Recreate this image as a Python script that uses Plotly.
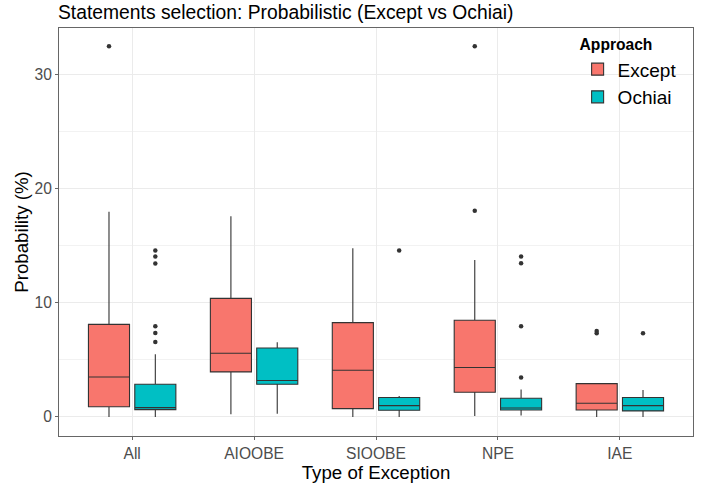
import plotly.graph_objects as go

categories = ["All", "AIOOBE", "SIOOBE", "NPE", "IAE"]
approaches = ["Except", "Ochiai"]
colors = ["#F8766D", "#00BFC4"]

# Box statistics per approach, in category order
except_q1 = [0.90, 3.95, 0.73, 2.16, 0.61]
except_med = [3.50, 5.58, 4.09, 4.33, 1.20]
except_q3 = [8.12, 10.40, 8.27, 8.48, 2.92]
except_lo = [0.00, 0.23, 0.00, 0.09, 0.00]
except_hi = [18.00, 17.60, 14.80, 13.77, 2.92]
except_out = [[32.5], [], [], [18.07, 32.5], [7.54, 7.34]]

ochiai_q1 = [0.64, 2.87, 0.59, 0.61, 0.53]
ochiai_med = [0.82, 3.19, 0.99, 0.79, 0.99]
ochiai_q3 = [2.87, 6.05, 1.70, 1.64, 1.70]
ochiai_lo = [0.00, 0.29, 0.00, 0.12, 0.00]
ochiai_hi = [5.50, 6.55, 1.84, 2.40, 2.37]
ochiai_out = [[14.6, 14.06, 13.45, 7.95, 7.37, 6.58], [], [14.6],
              [14.06, 13.48, 7.95, 3.45], [7.34]]

stats = {
    "Except": (except_q1, except_med, except_q3, except_lo, except_hi, except_out),
    "Ochiai": (ochiai_q1, ochiai_med, ochiai_q3, ochiai_lo, ochiai_hi, ochiai_out),
}

dodge = 0.19
box_w = 0.337
fig = go.Figure()
for k, name in enumerate(approaches):
    q1, med, q3, lo, hi, outs = stats[name]
    off = -dodge if k == 0 else dodge
    xs = [i + off for i in range(len(categories))]
    fig.add_trace(go.Box(
        name=name, x=xs, q1=q1, median=med, q3=q3,
        lowerfence=lo, upperfence=hi, width=box_w,
        fillcolor=colors[k], line=dict(color="#333333", width=1.1),
        whiskerwidth=0, boxpoints=False, showlegend=True,
    ))
    ox, oy = [], []
    for i, vals in enumerate(outs):
        for v in vals:
            ox.append(i + off)
            oy.append(v)
    fig.add_trace(go.Scatter(
        x=ox, y=oy, mode="markers", showlegend=False,
        marker=dict(color="#333333", size=4.5),
    ))

fig.update_layout(
    width=712, height=485,
    margin=dict(l=59, r=19, t=28, b=49, autoexpand=False),
    paper_bgcolor="white", plot_bgcolor="white",
    font=dict(family="Liberation Sans, Arial, sans-serif", color="black"),
    title=dict(text="Statements selection: Probabilistic (Except vs Ochiai)",
               x=58/712, xref="container", xanchor="left",
               y=1-12.5/485, yref="container", yanchor="middle",
               font=dict(size=19.3, color="black")),
    legend=dict(
        title=dict(text="<b>Approach</b>", font=dict(size=15.6), side="top"),
        font=dict(size=19), x=0.818, y=0.995, xanchor="left", yanchor="top",
        bgcolor="rgba(0,0,0,0)", tracegroupgap=0,
    ),
    showlegend=True,
)
fig.update_xaxes(
    range=[-0.6, 4.6], tickvals=list(range(len(categories))), ticktext=categories,
    showgrid=True, gridcolor="#EBEBEB", gridwidth=1,
    showline=True, linecolor="#666666", linewidth=1, mirror=True,
    ticks="outside", ticklen=3, tickcolor="#666666",
    tickfont=dict(size=15.6, color="#4D4D4D"),
    title=dict(text="Type of Exception", font=dict(size=18.7), standoff=5),
    zeroline=False, automargin=False,
)
fig.update_yaxes(
    range=[-1.67, 34.1], tickvals=[0, 10, 20, 30],
    showgrid=True, gridcolor="#EBEBEB", gridwidth=1,
    minor=dict(tickvals=[5, 15, 25], showgrid=True, gridcolor="#F2F2F2", gridwidth=0.6),
    showline=True, linecolor="#666666", linewidth=1, mirror=True,
    ticks="outside", ticklen=3, tickcolor="#666666",
    tickfont=dict(size=15.6, color="#4D4D4D"),
    title=dict(text="Probability (%)", font=dict(size=18.7), standoff=0),
    zeroline=False, automargin=False,
)
fig.write_html("out.html", config={"displayModeBar": False},
               post_script="document.body.style.margin='0';")
